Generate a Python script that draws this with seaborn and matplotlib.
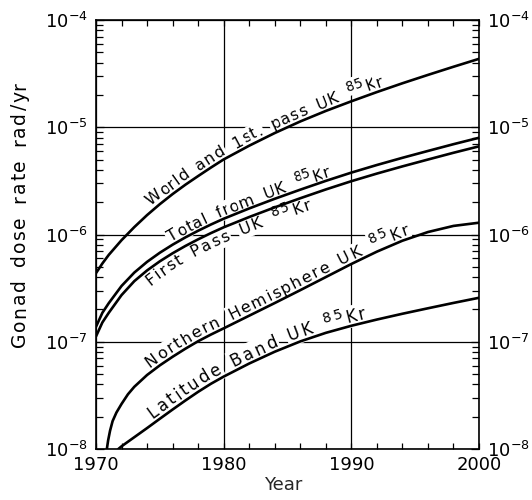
import numpy as np
import pandas as pd
import matplotlib
matplotlib.use("Agg")
import matplotlib.pyplot as plt
import seaborn as sns
from matplotlib.font_manager import FontProperties, findfont, get_font
from matplotlib.ticker import FixedLocator, MultipleLocator, LogLocator, NullFormatter, FuncFormatter
from matplotlib.transforms import IdentityTransform

# ---- gonad dose rate from UK 85Kr releases, given as log10(rad/yr) ----
years_world = [1970, 1970.5, 1971, 1972, 1973, 1974, 1975, 1976, 1977, 1978, 1979, 1980,
               1982, 1984, 1986, 1988, 1990, 1992, 1994, 1996, 1998, 2000]
logdose_world = [-6.36, -6.27, -6.19, -6.053, -5.931, -5.819, -5.717, -5.623, -5.536, -5.455,
                 -5.376, -5.30, -5.172, -5.054, -4.946, -4.848, -4.758, -4.672, -4.59, -4.512,
                 -4.436, -4.362]

years_total = [1970, 1970.5, 1971, 1972, 1973, 1974, 1975, 1976, 1977, 1978, 1979, 1980,
               1982, 1984, 1986, 1988, 1990, 1992, 1994, 1996, 1998, 2000]
logdose_total = [-6.86, -6.73, -6.64, -6.48, -6.355, -6.255, -6.17, -6.095, -6.027, -5.965,
                 -5.907, -5.853, -5.757, -5.667, -5.582, -5.50, -5.423, -5.352, -5.285, -5.221,
                 -5.158, -5.098]

years_first = [1970, 1970.5, 1971, 1972, 1973, 1974, 1975, 1976, 1977, 1978, 1979, 1980,
               1982, 1984, 1986, 1988, 1990, 1992, 1994, 1996, 1998, 2000]
logdose_first = [-6.95, -6.82, -6.73, -6.565, -6.435, -6.335, -6.25, -6.175, -6.107, -6.045,
                 -5.987, -5.933, -5.837, -5.747, -5.662, -5.58, -5.503, -5.432, -5.365, -5.301,
                 -5.238, -5.178]

years_north = [1970.85, 1970.95, 1971.1, 1971.3, 1971.6, 1972, 1972.5, 1973, 1974, 1975, 1976,
               1977, 1978, 1979, 1980, 1982, 1984, 1986, 1988, 1990, 1992, 1994, 1996, 1998, 2000]
logdose_north = [-8.0, -7.92, -7.83, -7.74, -7.66, -7.58, -7.49, -7.42, -7.31, -7.22, -7.14,
                 -7.065, -6.995, -6.933, -6.875, -6.757, -6.639, -6.519, -6.397, -6.275, -6.16,
                 -6.058, -5.977, -5.92, -5.89]

years_lat = [1971.75, 1972, 1973, 1974, 1975, 1976, 1977, 1978, 1979, 1980, 1982, 1984, 1986,
             1988, 1990, 1992, 1994, 1996, 1998, 2000]
logdose_lat = [-8.0, -7.975, -7.89, -7.805, -7.718, -7.632, -7.548, -7.467, -7.392, -7.325,
               -7.203, -7.093, -6.997, -6.917, -6.851, -6.793, -6.739, -6.688, -6.638, -6.59]

curve_names = ["World and 1st. pass UK {85}Kr",
               "Total from UK {85}Kr",
               "First Pass UK {85}Kr",
               "Northern Hemisphere UK {85}Kr",
               "Latitude Band UK {85}Kr"]
label_start_year = [1974.5, 1976.0, 1973.6, 1974.4, 1974.6]
label_offset_px = [4, 3, -14, 4, 4]
# lettering per label: font size (pt), letter tracking (px), word gap (px)
label_lettering = [(11.5, 0.6, 10), (11.5, 0.6, 10), (11.5, 1.9, 10),
                   (11.5, 1.6, 10), (12.0, 2.2, 10)]

x_ticks = [1970, 1980, 1990, 2000]
x_label = "Year"
y_label = "Gonad dose rate rad/yr"

DPI = 100
FONT = "DejaVu Sans"

sns.set_style("ticks")
plt.rcParams["font.family"] = [FONT]
plt.rcParams["mathtext.fontset"] = "dejavusans"

fig = plt.figure(figsize=(5.32, 5.0), dpi=DPI)
ax = fig.add_axes([96 / 532, 51 / 500, 383 / 532, 429 / 500])

series = [(years_world, logdose_world), (years_total, logdose_total),
          (years_first, logdose_first), (years_north, logdose_north),
          (years_lat, logdose_lat)]
curves = []
for name, (xs, lg) in zip(curve_names, series):
    df = pd.DataFrame({"year": xs, "dose": np.power(10.0, lg)})
    curves.append(df)
    sns.lineplot(data=df, x="year", y="dose", ax=ax, color="black", lw=1.9,
                 estimator=None, sort=False, zorder=3)

ax.set_yscale("log")
ax.set_xlim(1970, 2000)
ax.set_ylim(1e-8, 1e-4)

ax.xaxis.set_major_locator(FixedLocator(x_ticks))
ax.xaxis.set_minor_locator(MultipleLocator(2))
ax.yaxis.set_major_locator(LogLocator(base=10, numticks=10))
ax.yaxis.set_minor_locator(LogLocator(base=10, subs=np.arange(2, 10), numticks=20))
ax.yaxis.set_minor_formatter(NullFormatter())
ax.yaxis.set_major_formatter(FuncFormatter(lambda v, p: r"$10^{%d}$" % int(round(np.log10(v)))))

ax.tick_params(axis="both", which="both", direction="in", width=0.9, colors="black")
ax.tick_params(axis="x", which="both", top=True, bottom=True, length=4, labelsize=13, pad=5)
ax.tick_params(axis="y", which="major", left=True, right=True, labelleft=True, labelright=True,
               length=6, labelsize=13, pad=6)
ax.tick_params(axis="y", which="minor", left=True, right=True, length=5)

ax.grid(True, which="major", color="black", lw=0.9)
ax.set_axisbelow(True)
for sp in ax.spines.values():
    sp.set_linewidth(1.2)
    sp.set_color("black")

ax.set_ylabel("")
ax.set_xlabel(x_label, fontsize=13, va="center")
ax.xaxis.set_label_coords((283.5 - 96) / 383, (449 - 485) / 429)


# ---- text set along a path, one glyph at a time ----
def advance(ch, size):
    font = get_font(findfont(FontProperties(family=FONT)))
    font.set_size(size, DPI)
    g = font.load_char(ord(ch))
    try:
        return g.linearHoriAdvance / 65536.0
    except AttributeError:
        return g.horiAdvance / 64.0


def tokens(text):
    out, sup = [], False
    for ch in text:
        if ch == "{":
            sup = True
        elif ch == "}":
            sup = False
        else:
            out.append((ch, sup))
    return out


def path_tools(P):
    seg = np.hypot(np.diff(P[:, 0]), np.diff(P[:, 1]))
    S = np.concatenate([[0], np.cumsum(seg)])

    def at(s):
        return np.array([np.interp(s, S, P[:, 0]), np.interp(s, S, P[:, 1])])

    def tangent(s, h=9.0):
        d = at(min(s + h, S[-1])) - at(max(s - h, 0))
        return d / np.hypot(*d)

    return S, at, tangent


def set_along(P, s0, text, size, tracking, space, offset, sup_raise=6, sup_scale=0.85,
              box=True):
    S, at, tangent = path_tools(P)
    s = s0
    for ch, sup in tokens(text):
        if ch == " ":
            s += space
            continue
        fs = size * sup_scale if sup else size
        w = advance(ch, fs)
        sc = s + w / 2
        t = tangent(sc)
        n = np.array([-t[1], t[0]])
        pos = at(sc) + n * (offset + (sup_raise if sup else 0))
        ang = np.degrees(np.arctan2(t[1], t[0]))
        kw = dict(bbox=dict(boxstyle="square,pad=0.12", fc="white", ec="none")) if box else {}
        ax.text(pos[0], pos[1], ch, transform=IdentityTransform(), rotation=ang,
                rotation_mode="anchor", ha="center", va="baseline", fontsize=fs,
                color="black", zorder=2, clip_on=False, **kw)
        s += w + tracking


for df, name, y0, off, (fs, trk, gap) in zip(curves, curve_names, label_start_year,
                                             label_offset_px, label_lettering):
    P = ax.transData.transform(df[["year", "dose"]].to_numpy())
    S, _, _ = path_tools(P)
    x0 = ax.transData.transform((y0, 1e-6))[0]
    s0 = np.interp(x0, P[:, 0], S)
    set_along(P, s0, name, fs, trk, gap, off)

# vertical axis title with letter spacing
P_y = np.array([[25.0, 100.0], [25.0, 480.0]])
set_along(P_y, 153 - 100, y_label, 13.5, 1.6, 12, 0, box=False)

fig.savefig("out.png", dpi=DPI)
